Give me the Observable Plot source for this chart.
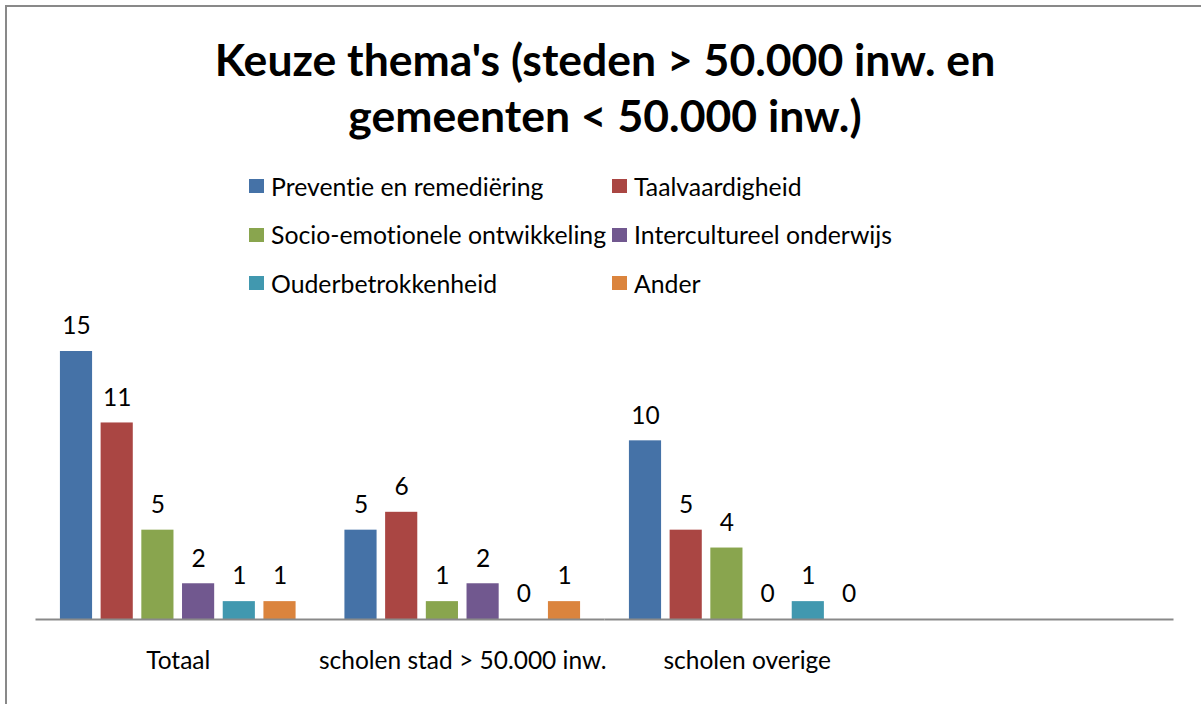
<!DOCTYPE html>
<html>
<head>
<meta charset="utf-8">
<script src="https://cdn.jsdelivr.net/npm/d3@7"></script>
<script src="https://cdn.jsdelivr.net/npm/@observablehq/plot@0.6"></script>
<style>
  html, body { margin: 0; padding: 0; background: #fff; }
  #wrap { position: relative; width: 1201px; height: 704px; overflow: hidden; font-family: Lato, "Open Sans", sans-serif; color: #000; font-variant-ligatures: none; }
  #frame { position: absolute; left: 5px; top: 5px; width: 1300px; height: 800px; border-top: 2px solid #898989; border-left: 2px solid #898989; box-sizing: border-box; }
  #title { position: absolute; left: 0; width: 1210px; top: 31px; text-align: center; font-weight: 700; font-size: 44.5px; line-height: 56px; }
  #legend { position: absolute; left: 249px; top: 162px; display: grid; grid-template-columns: 363px auto; grid-auto-rows: 48.5px; font-size: 24.8px; }
  .item { display: flex; align-items: center; white-space: nowrap; }
  .sw { width: 15px; height: 14px; margin-right: 7px; flex: none; }
  #chart { position: absolute; left: 0; top: 300px; }
  #chart svg text { font-variant-ligatures: none; }
</style>
</head>
<body>
<div id="wrap">
  <div id="frame"></div>
  <div id="title">Keuze thema's (steden &gt; 50.000 inw. en<br>gemeenten &lt; 50.000 inw.)</div>
  <div id="legend"></div>
  <div id="chart"></div>
</div>
<script>
// Category groups (the fourth slot is an empty category in the original chart)
const categories = ["Totaal", "scholen stad > 50.000 inw.", "scholen overige", ""];
const series = ["Preventie en remediëring", "Taalvaardigheid", "Socio-emotionele ontwikkeling", "Intercultureel onderwijs", "Ouderbetrokkenheid", "Ander"];
const colors = ["#4572A7", "#AA4643", "#89A54E", "#71588F", "#4198AF", "#DB843D"];
// values per series, in the order of the first three categories
const preventie = [15, 5, 10];
const taal = [11, 6, 5];
const socio = [5, 1, 4];
const intercultureel = [2, 2, 0];
const ouder = [1, 0, 1];
const ander = [1, 1, 0];

const seriesValues = [preventie, taal, socio, intercultureel, ouder, ander];
const data = [];
categories.slice(0, 3).forEach((c, ci) => {
  series.forEach((s, si) => data.push({group: c, series: s, value: seriesValues[si][ci]}));
});

// Legend (row-major, two columns)
const legend = document.getElementById("legend");
series.forEach((s, i) => {
  const it = document.createElement("div");
  it.className = "item";
  const sw = document.createElement("span");
  sw.className = "sw";
  sw.style.background = colors[i];
  const tx = document.createElement("span");
  tx.textContent = s;
  it.appendChild(sw); it.appendChild(tx);
  legend.appendChild(it);
});

const chart = Plot.plot({
  width: 1201,
  height: 404,
  marginLeft: 35.5,
  marginRight: 27.5,
  marginTop: 51,
  marginBottom: 85,
  style: {fontFamily: "Lato, 'Open Sans', sans-serif", fontSize: "24.5px", color: "#000", background: "transparent", overflow: "visible"},
  fx: {domain: categories, padding: 0, round: false, label: null, axis: "bottom", tickSize: 0, tickPadding: 32},
  x: {domain: series, axis: null, round: false, paddingInner: 0.21, paddingOuter: 0.6},
  y: {domain: [0, 15], axis: null},
  color: {domain: series, range: colors},
  marks: [
    Plot.barY(data, {fx: "group", x: "series", y: "value", fill: "series"}),
    Plot.text(data, {fx: "group", x: "series", y: "value", text: d => String(d.value), dy: -25, fontSize: 24.5, fill: "#000"}),
    Plot.ruleY(categories, {fx: d => d, y: () => 0, stroke: "#898989", strokeWidth: 2})
  ]
});
document.getElementById("chart").appendChild(chart);
</script>
</body>
</html>
